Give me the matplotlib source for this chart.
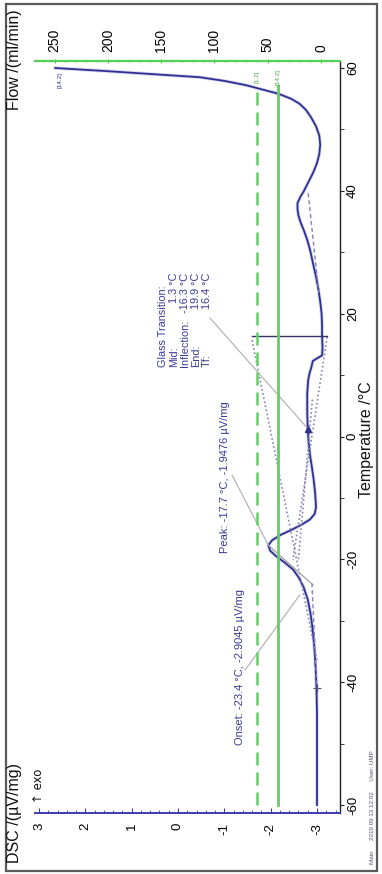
import matplotlib
matplotlib.use("Agg")
import matplotlib.pyplot as plt
from matplotlib.ticker import MultipleLocator
from matplotlib.patches import Rectangle

plt.rcParams['font.family'] = ['Liberation Sans', 'DejaVu Sans']
plt.rcParams['axes.unicode_minus'] = False

# ---------------- data ----------------
temp_c = [-60, -55, -50, -45, -41, -37.5, -34, -31, -28.8, -26.5, -24.5, -23, -21.7, -20.5,
          -19.5, -18.6, -17.7, -16.9, -16.0, -15.2, -14.3, -13.5, -12.6, -11.5, -9.2, -7.1,
          -5, -3, -1, 1.3, 4, 7, 9.2, 10.3, 11.3, 12.3, 12.8, 13.2, 14.5, 16.4, 18, 20, 22,
          24, 26, 28, 30.4, 32, 33.5, 35, 36, 37, 38, 39, 40, 41.5, 43, 44.5, 46, 47.5, 49,
          50.5, 52, 53.2, 54.2, 55.0, 55.8, 56.5, 57.2, 57.9, 58.5, 59.0, 59.5, 60.0]
dsc_uv = [-3.00, -3.00, -3.00, -3.00, -2.99, -2.97, -2.94, -2.90, -2.86, -2.80, -2.71, -2.61,
          -2.49, -2.30, -2.12, -1.99, -1.95, -2.03, -2.22, -2.45, -2.68, -2.85, -2.95, -2.98,
          -2.96, -2.93, -2.89, -2.85, -2.82, -2.80, -2.79, -2.79, -2.81, -2.84, -2.88, -2.91,
          -3.02, -3.11, -3.12, -3.11, -3.11, -3.10, -3.07, -3.03, -2.98, -2.92, -2.85, -2.79,
          -2.72, -2.64, -2.60, -2.58, -2.58, -2.64, -2.72, -2.82, -2.92, -3.00, -3.05, -3.07,
          -3.05, -2.98, -2.87, -2.76, -2.62, -2.44, -2.17, -1.82, -1.47, -1.00, -0.47, 0.55,
          1.55, 2.65]

flow_levels = [60, 40]            # ml/min (dashed, solid)
flow_styles = ['dashed', 'solid']
flow_labels = ['[1.2]', '[14.2]']
flow_t_range = [-60, 57]

dsc_ticks = [3, 2, 1, 0, -1, -2, -3]
dsc_ticklabels = ['3', '2', '1', '0', '-1', '-2', '-3']
flow_ticks = [250, 200, 150, 100, 50, 0]
flow_ticklabels = ['250', '200', '150', '100', '50', '0']
temp_ticks = [-60, -40, -20, 0, 20, 40, 60]
temp_ticklabels = ['-60', '-40', '-20', '0', '20', '40', '60']

gt_names = ['Glass Transition:', 'Mid:', 'Inflection:', 'End:', 'Tf:']
gt_values = ['', '1.3 °C', '-16.3 °C', '19.9 °C', '16.4 °C']

# evaluation results
tg_mid = (1.3, -2.80)
tf_temp = 16.4
tf_dsc_span = [-1.60, -3.22]
peak = (-17.7, -1.9476)
onset = (-23.4, -2.9045)
baseline_mark = (-40.9, -2.99)

# construction lines (temperature list, dsc list)
constr_dotted = [([15.7, -36.4], [-1.60, -3.00]),
                 ([16.2, -20.1], [-3.22, -2.48]),
                 ([6.0, -20.0], [-2.90, -2.60])]
constr_dashed = [([39.6, 23.4], [-2.81, -3.04]),
                 ([-23.9, -40.9], [-2.89, -3.00])]
onset_tangent = ([-17.7, -24.2], [-1.95, -2.92])
leader_tg = ([19.3, 1.3], [-0.69, -2.80])
leader_peak = ([-6.3, -17.7], [-1.17, -1.95])
leader_onset = ([-38.0, -25.8], [-1.45, -2.63])

# ---------------- figure ----------------
W, H = 382, 874
fig = plt.figure(figsize=(W / 100, H / 100), dpi=100)
fig.patch.set_facecolor('white')

def fx(x):
    return x / W

def fy(y):
    return 1 - y / H

NAVY = '#2e3192'
BLUE_AX = '#3b3bb0'
GREEN = '#66cc66'
GRAY = '#b5b5b5'
DOT = '#8585b5'

ax = fig.add_axes([fx(35), fy(813), (340 - 35) / W, (813 - 61) / H])
ax.patch.set_alpha(0)

# curve
ax.plot(dsc_uv, temp_c, color='#a8a8d8', lw=2.6, alpha=0.45, solid_capstyle='round')
ax.plot(dsc_uv, temp_c, color=NAVY, lw=1.3)

# constructions
for t, d in constr_dotted:
    ax.plot(d, t, color=DOT, lw=1.2, ls=(0, (1, 1.5)))
for t, d in constr_dashed:
    ax.plot(d, t, color=DOT, lw=1.0, ls=(0, (3, 2)))
ax.plot(onset_tangent[1], onset_tangent[0], color='#9a9a9a', lw=0.8)
ax.plot(tf_dsc_span, [tf_temp, tf_temp], color='#34346a', lw=1.0)
for t, d in (leader_tg, leader_peak, leader_onset):
    ax.plot(d, t, color=GRAY, lw=0.9)
ax.plot([tg_mid[1]], [tg_mid[0]], marker='^', color=NAVY, ms=4)
ax.plot([baseline_mark[1]], [baseline_mark[0]], marker='+', color='#555577', ms=6, mew=0.8)

ax.set_xlim(3.086, -3.497)
ax.set_ylim(-61.3, 61.14)

ax.spines['left'].set_visible(False)
ax.spines['top'].set_visible(False)
ax.spines['bottom'].set_color(BLUE_AX)
ax.spines['bottom'].set_linewidth(1.4)
ax.spines['right'].set_color('#222222')
ax.spines['right'].set_linewidth(1.0)

ax.set_xticks(dsc_ticks)
ax.set_xticklabels(dsc_ticklabels)
ax.xaxis.set_minor_locator(MultipleLocator(0.2))
ax.tick_params(axis='x', which='major', direction='in', length=3.5, color=BLUE_AX,
               labelsize=9.5, pad=7, labelrotation=90)
ax.tick_params(axis='x', which='minor', direction='in', length=2, color=BLUE_AX)

ax.yaxis.tick_right()
ax.set_yticks(temp_ticks)
ax.set_yticklabels(temp_ticklabels)
ax.yaxis.set_minor_locator(MultipleLocator(10))
ax.tick_params(axis='y', which='both', direction='out', length=3, color='#222222',
               labelsize=9.5, pad=2, labelrotation=90, left=False)
for lab in ax.get_yticklabels():
    lab.set_va('center')

# flow axis
ax2 = ax.twiny()
ax2.patch.set_alpha(0)
for lvl, st, lb in zip(flow_levels, flow_styles, flow_labels):
    if st == 'dashed':
        ax2.plot([lvl, lvl], flow_t_range, color=GREEN, lw=1.8, dashes=(5.2, 2.8))
    else:
        ax2.plot([lvl, lvl], flow_t_range, color=GREEN, lw=2.0)
    ax2.text(lvl, 58.6, lb, rotation=90, ha='center', va='center', fontsize=4.5, color='#44aa44')
ax2.set_xlim(268.3, -17.8)
for s in ('left', 'right', 'bottom'):
    ax2.spines[s].set_visible(False)
ax2.spines['top'].set_color('#55d055')
ax2.spines['top'].set_linewidth(1.6)
ax2.set_xticks(flow_ticks)
ax2.set_xticklabels(flow_ticklabels)
ax2.xaxis.set_minor_locator(MultipleLocator(10))
ax2.tick_params(axis='x', which='major', direction='inout', length=3.5, color='#44bb44',
                labelsize=10, pad=5, labelrotation=90)
ax2.tick_params(axis='x', which='minor', direction='inout', length=2, color='#44bb44')

# curve tag
ax.text(2.55, 58.0, '[14.2]', rotation=90, ha='center', va='center', fontsize=4.5, color=NAVY)

# ---------------- texts ----------------
TXT = '#3a3a9a'
fig.text(fx(15), fy(60), 'Flow /(ml/min)', rotation=90, ha='center', va='center', fontsize=11.5, color='#111111')
fig.text(fx(15), fy(813), 'DSC /(µV/mg)', rotation=90, ha='center', va='center', fontsize=11.5, color='#111111')
fig.text(fx(38), fy(786), '↑ exo', rotation=90, ha='center', va='center', fontsize=8.5, color='#111111',
         family=['DejaVu Sans'])
fig.text(fx(366), fy(440), 'Temperature /°C', rotation=90, ha='center', va='center', fontsize=11.5, color='#111111')
fig.text(fx(372), fy(864), 'Main      2019 09 13 12:02      User: UMP', rotation=90, rotation_mode='anchor',
         ha='left', va='center', fontsize=4.5, color='#555566')

# glass transition block: one text per line, names left-aligned, values right-aligned
gt_line_px = 11.0
for i, (nm, val) in enumerate(zip(gt_names, gt_values)):
    xline = 163 + i * gt_line_px
    fig.text(fx(xline), fy(367), nm, rotation=90, rotation_mode='anchor',
             ha='left', va='center', fontsize=7.8, color=TXT)
    if val:
        fig.text(fx(xline), fy(273), val, rotation=90, rotation_mode='anchor',
                 ha='right', va='center', fontsize=7.8, color=TXT)

fig.text(fx(225), fy(553), 'Peak: -17.7 °C, -1.9476 µV/mg', rotation=90, rotation_mode='anchor',
         ha='left', va='center', fontsize=8, color=TXT)
fig.text(fx(240), fy(745), 'Onset: -23.4 °C, -2.9045 µV/mg', rotation=90, rotation_mode='anchor',
         ha='left', va='center', fontsize=8, color=TXT)

fig.add_artist(Rectangle((fx(6), fy(871)), 371 / W, 867 / H, transform=fig.transFigure,
                         fill=False, ec='#5a5a5a', lw=1.6))

fig.savefig('out.png', dpi=100)
